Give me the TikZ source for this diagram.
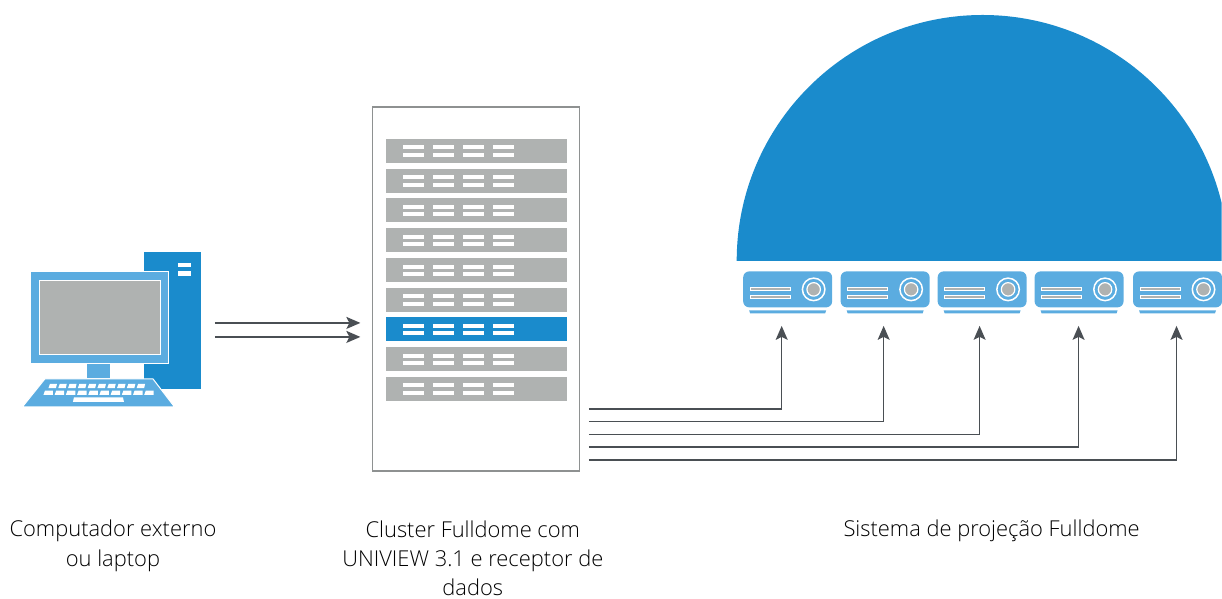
\documentclass[tikz,border=0pt]{standalone}
\usepackage{fontspec}
\setmainfont{Open Sans Light}
\usetikzlibrary{calc,arrows.meta,positioning}

\definecolor{domeblue}{HTML}{1A8BCC}
\definecolor{lightblue}{HTML}{5BACE0}
\definecolor{unitgray}{HTML}{AFB2B1}
\definecolor{framegray}{HTML}{8E9191}
\definecolor{wiregray}{HTML}{4A4F54}

\begin{document}
\begin{tikzpicture}[x=1pt,y=-1pt]

  % Styles
  \tikzstyle{every node}=[inner sep=0pt,outer sep=0pt,text centered]
  \tikzstyle{cluster}=[draw=framegray,line width=1.5pt,fill=white,minimum width=207pt,minimum height=364pt]
  \tikzstyle{unit}=[fill=unitgray,minimum width=181pt,minimum height=24pt]
  \tikzstyle{slot}=[fill=white,minimum width=21pt,minimum height=4pt]
  \tikzstyle{projector}=[minimum width=89pt,minimum height=36pt]
  \tikzstyle{projbar}=[draw=white,line width=0.6pt,fill=unitgray,minimum width=40pt,minimum height=2.8pt]
  \tikzstyle{wire}=[draw=wiregray,line width=1.5pt]
  \tikzstyle{arrow}=[wire,-{Stealth[length=14pt,width=12pt,inset=3pt]}]
  \tikzstyle{caption}=[font=\fontsize{21.9}{29.2}\selectfont,align=center]

  % \unitrow{<id>}{<y>}{<fill>}
  \newcommand{\unitrow}[3]{%
    \node[unit,fill=#3] (unit-#1) at (476.5,#2) {};
    \foreach \k in {0,1,2,3} {
      \node[slot] (slot-#1-\k-a) at ($(unit-#1.west)+(27.5+30*\k,-3.8)$) {};
      \node[slot] (slot-#1-\k-b) at ($(unit-#1.west)+(27.5+30*\k,4)$) {};
    }
  }

  % \projector{<id>}{<x>}
  \newcommand{\projector}[2]{%
    \node[projector] (proj-#1) at (#2,289.5) {};
    \fill[lightblue,rounded corners=6pt] (proj-#1.south west) -- (proj-#1.north west) -- (proj-#1.north east) -- (proj-#1.south east) -- cycle;
    \fill[lightblue] ($(proj-#1.south west)+(6,3)$) -- ++(77,0) -- ++(-1,3) -- ++(-75,0) -- cycle;
    \node[projbar] (bar-#1-a) at ($(proj-#1.west)+(27,-0.8)$) {};
    \node[projbar] (bar-#1-b) at ($(proj-#1.west)+(27,7.6)$) {};
    \node[circle,draw=white,line width=1.5pt,minimum size=22.5pt] (lens-#1) at ($(proj-#1.east)+(-18.5,0)$) {};
    \node[circle,draw=white,line width=1.2pt,fill=unitgray,minimum size=13.5pt] at (lens-#1) {};
  }

  % Draw dome
  \begin{scope}
    \clip (0,0) rectangle (1222,599);
    \fill[domeblue] (737,261) arc[start angle=180,end angle=360,radius=246] -- cycle;
  \end{scope}

  % Draw computer
  \node[fill=domeblue,minimum width=57pt,minimum height=136.5pt] (tower) at (172.5,320.75) {};
  \node[fill=white,minimum width=13pt,minimum height=4.6pt] (button-0) at (184.5,265) {};
  \node[fill=white,minimum width=13pt,minimum height=4.6pt] (button-1) at (184.5,273.5) {};
  \node[fill=lightblue,draw=white,line width=0.8pt,minimum width=138pt,minimum height=92pt] (monitor) at (99.5,317.5) {};
  \node[fill=unitgray,draw=white,line width=0.8pt,minimum width=121pt,minimum height=74pt] (screen) at (99.5,318) {};
  \node[fill=lightblue,minimum width=23pt,minimum height=14pt] (stand) at (98.5,371) {};
  \filldraw[fill=lightblue,draw=white,line width=1pt] (45,379) -- (153,379) -- (174.5,407) -- (22.5,407) -- cycle;
  \foreach \k in {0,...,9} {
    \fill[white] ({50+9.8*\k},384) -- ++(7,0) -- ++(-1,4.2) -- ++(-7.5,0) -- cycle;
    \fill[white] ({45+11.2*\k},390.8) -- ++(8,0) -- ++(0,4.2) -- ++(-9.5,0) -- cycle;
  }
  \fill[white] (74,397.5) -- (123,397.5) -- (124,402) -- (73,402) -- cycle;

  % Draw cluster
  \node[cluster] (cluster) at (476,289) {};
  \foreach \id/\ypos/\col in {0/151/unitgray,1/180.8/unitgray,2/210.5/unitgray,3/240.5/unitgray,4/270.5/unitgray,5/300/unitgray,6/329.5/domeblue,7/359.5/unitgray,8/389/unitgray} {
    \unitrow{\id}{\ypos}{\col}
  }

  % Draw projectors
  \projector{0}{788}
  \projector{1}{885.5}
  \projector{2}{982.5}
  \projector{3}{1079.5}
  \projector{4}{1178}

  % Draw links
  \path (tower.east) ++(14,2.3) coordinate (pc-out-0) ++(0,14) coordinate (pc-out-1);
  \draw[arrow] (pc-out-0) -- ($(pc-out-0 -| cluster.west)+(-12,0)$);
  \draw[arrow] (pc-out-1) -- ($(pc-out-1 -| cluster.west)+(-12,0)$);

  \foreach \id/\xoff/\ypos in {0/-6/409,1/-1.5/421.5,2/-2.5/434.5,3/-0.5/447,4/-1/460} {
    \coordinate (out-\id) at (589,\ypos);
    \coordinate (in-\id) at ($(proj-\id.south)+(\xoff,18.5)$);
    \draw[arrow] (out-\id) -| (in-\id);
  }

  % Draw captions
  \node[caption] (label-pc) at (113,546) {Computador externo\\ou laptop};
  \node[caption] (label-cluster) at (473,558.5) {Cluster Fulldome com\\UNIVIEW 3.1 e receptor de\\dados};
  \node[caption] (label-dome) at (992,531.5) {Sistema de projeção Fulldome};

  \useasboundingbox (0,0) rectangle (1222,599);

\end{tikzpicture}
\end{document}
